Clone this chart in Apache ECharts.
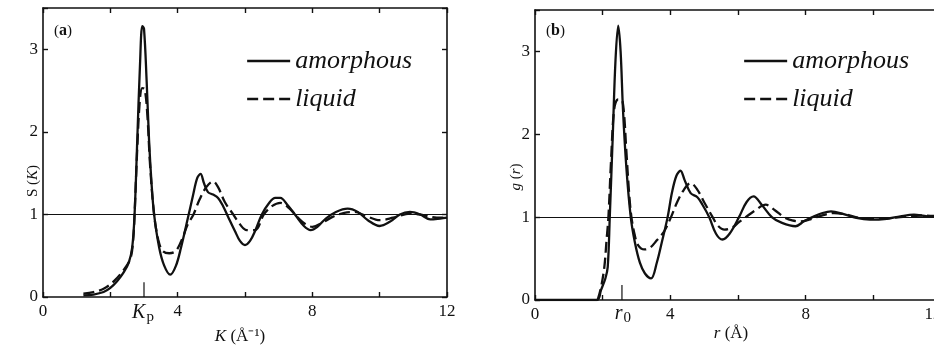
<!DOCTYPE html>
<html><head><meta charset="utf-8">
<script src="https://cdn.jsdelivr.net/npm/echarts@6/dist/echarts.min.js"></script>
<style>html,body{margin:0;padding:0;background:#fff}#c{width:934px;height:346px}</style>
</head><body><div id="c"></div>
<script>
// ---- data ----
const seriesNames = ['amorphous', 'liquid'];
const xTickLabelsA = ['0', '4', '8', '12'];
const yTickLabels = ['0', '1', '2', '3'];
const Kp = 3.0;
const r0 = 2.57;
// (a) S(K)
const S_amorphous = [[1.2,0.02],[1.5,0.03],[1.8,0.06],[2.0,0.11],[2.2,0.19],[2.4,0.3],[2.55,0.42],[2.65,0.6],[2.72,1.0],[2.8,1.9],[2.88,2.8],[2.95,3.28],[3.0,3.25],[3.08,2.6],[3.15,1.9],[3.22,1.4],[3.3,1.0],[3.45,0.6],[3.6,0.38],[3.78,0.27],[3.95,0.38],[4.1,0.6],[4.3,0.95],[4.45,1.22],[4.58,1.44],[4.68,1.49],[4.78,1.38],[4.9,1.27],[5.05,1.24],[5.2,1.2],[5.35,1.1],[5.5,0.97],[5.7,0.8],[5.85,0.68],[6.0,0.63],[6.15,0.68],[6.3,0.8],[6.5,1.0],[6.7,1.13],[6.9,1.2],[7.05,1.2],[7.25,1.12],[7.5,0.99],[7.75,0.86],[7.95,0.81],[8.15,0.85],[8.4,0.95],[8.7,1.03],[9.05,1.07],[9.35,1.03],[9.65,0.93],[10.0,0.86],[10.3,0.91],[10.6,1.0],[10.9,1.03],[11.2,1.0],[11.5,0.94],[11.8,0.95],[12.0,0.96]];
const S_liquid = [[1.2,0.04],[1.5,0.06],[1.8,0.1],[2.1,0.19],[2.4,0.33],[2.6,0.47],[2.68,0.7],[2.72,1.0],[2.8,1.8],[2.88,2.4],[2.95,2.53],[3.02,2.52],[3.1,2.2],[3.18,1.6],[3.3,1.0],[3.42,0.7],[3.55,0.56],[3.75,0.53],[3.95,0.56],[4.15,0.72],[4.3,0.88],[4.47,1.0],[4.65,1.18],[4.85,1.33],[5.05,1.4],[5.2,1.33],[5.4,1.15],[5.65,1.0],[5.85,0.88],[6.05,0.81],[6.3,0.81],[6.56,1.0],[6.8,1.1],[7.05,1.14],[7.3,1.08],[7.6,0.95],[7.8,0.88],[8.0,0.85],[8.3,0.9],[8.6,0.97],[8.95,1.02],[9.25,1.03],[9.6,0.98],[10.0,0.93],[10.4,0.96],[10.9,1.01],[11.3,0.99],[11.7,0.96],[12.0,0.96]];
// (b) g(r)
const g_amorphous = [[0,0],[1.83,0],[1.95,0.12],[2.08,0.26],[2.15,0.4],[2.21,1.0],[2.3,2.0],[2.38,2.9],[2.46,3.31],[2.53,3.0],[2.6,2.3],[2.7,1.6],[2.83,1.0],[2.95,0.7],[3.1,0.45],[3.25,0.32],[3.43,0.26],[3.6,0.45],[3.75,0.7],[3.92,1.0],[4.05,1.3],[4.18,1.5],[4.3,1.56],[4.42,1.45],[4.6,1.29],[4.8,1.24],[4.95,1.15],[5.15,1.0],[5.35,0.8],[5.54,0.73],[5.75,0.8],[6.03,1.0],[6.25,1.18],[6.46,1.25],[6.7,1.15],[7.0,1.0],[7.3,0.93],[7.7,0.89],[7.95,0.95],[8.2,1.0],[8.5,1.05],[8.75,1.07],[9.1,1.04],[9.5,0.99],[9.9,0.97],[10.4,0.98],[10.8,1.01],[11.2,1.03],[11.6,1.01],[12,1.01]];
const g_liquid = [[1.85,0],[1.95,0.15],[2.05,0.4],[2.12,0.75],[2.17,1.0],[2.25,1.7],[2.34,2.3],[2.45,2.42],[2.55,2.42],[2.62,2.3],[2.7,1.8],[2.78,1.3],[2.85,1.0],[2.95,0.78],[3.05,0.66],[3.23,0.61],[3.4,0.63],[3.6,0.72],[3.82,0.83],[4.02,1.0],[4.2,1.18],[4.4,1.33],[4.6,1.41],[4.8,1.33],[5.0,1.18],[5.25,1.0],[5.4,0.9],[5.6,0.85],[5.85,0.88],[6.0,0.93],[6.23,1.0],[6.5,1.08],[6.82,1.15],[7.1,1.08],[7.36,1.0],[7.6,0.96],[7.85,0.95],[8.1,0.97],[8.4,1.01],[8.84,1.05],[9.2,1.03],[9.6,0.99],[10.2,0.98],[10.8,1.0],[11.4,1.02],[12,1.01]];

// ---- chart ----
const FONT = 'Liberation Serif';
const chart = echarts.init(document.getElementById('c'), null, {renderer: 'canvas'});
const lineCol = '#111';

function xAx(grid, pos, labels, shiftLast) {
  return {
    type: 'value', gridIndex: grid, position: pos, min: 0, max: 12, interval: 2,
    axisLine: {show: true, onZero: false, lineStyle: {color: lineCol, width: 1.6}},
    axisTick: {show: true, inside: true, length: 5, lineStyle: {color: lineCol, width: 1.4}},
    axisLabel: {show: labels, margin: 6, color: '#111', fontFamily: FONT, fontSize: 17,
      formatter: v => {
        const s = String(v);
        if (!xTickLabelsA.includes(s)) return '';
        return (shiftLast && v === 12) ? '{e|' + s + '}' : s;
      },
      rich: {e: {fontFamily: FONT, fontSize: 17, color: '#111', padding: [0, 16, 0, 0]}}},
    splitLine: {show: false}
  };
}
function yAx(grid, pos, labels) {
  return {
    type: 'value', gridIndex: grid, position: pos, min: 0, max: 3.5, interval: 1,
    axisLine: {show: true, onZero: false, lineStyle: {color: lineCol, width: 1.6}},
    axisTick: {show: true, inside: true, length: 5, lineStyle: {color: lineCol, width: 1.4}},
    axisLabel: {show: labels, margin: 5, color: '#111', fontFamily: FONT, fontSize: 17,
      formatter: v => yTickLabels.includes(String(v)) ? String(v) : ''},
    splitLine: {show: false}
  };
}
function curve(name, data, xi, yi, dashed) {
  return {
    name, type: 'line', xAxisIndex: xi, yAxisIndex: yi, data, smooth: 0.35,
    symbol: 'none', silent: true, z: 3,
    lineStyle: {color: lineCol, width: 2.3, type: dashed ? [11, 5] : 'solid'},
    itemStyle: {color: lineCol}
  };
}
function oneLine(xi, yi) {
  return {
    type: 'line', xAxisIndex: xi, yAxisIndex: yi, data: [], symbol: 'none', silent: true,
    markLine: {silent: true, symbol: 'none', label: {show: false},
      lineStyle: {color: lineCol, width: 1.2, type: 'solid'}, data: [{yAxis: 1}]}
  };
}
function markTick(x, xi, yi) {
  return {type: 'line', xAxisIndex: xi, yAxisIndex: yi, data: [[x, 0], [x, 0.18]],
    symbol: 'none', silent: true, lineStyle: {color: lineCol, width: 1.2}};
}
function legend(left) {
  return {
    left, top: 43, orient: 'vertical', itemWidth: 43, itemHeight: 14, itemGap: 12,
    selectedMode: false, data: seriesNames,
    itemStyle: {opacity: 0, borderWidth: 0},
    lineStyle: {width: 2.3},
    textStyle: {fontFamily: FONT, fontStyle: 'italic', fontSize: 26, lineHeight: 26, color: '#111'}
  };
}

chart.setOption({
  animation: false,
  grid: [
    {left: 43, top: 8, width: 404, height: 289, outerBoundsMode: 'none', containLabel: false},
    {left: 535, top: 10, width: 406, height: 290, outerBoundsMode: 'none', containLabel: false}
  ],
  xAxis: [xAx(0, 'bottom', true, false), xAx(0, 'top', false, false), xAx(1, 'bottom', true, true), xAx(1, 'top', false, false)],
  yAxis: [yAx(0, 'left', true), yAx(0, 'right', false), yAx(1, 'left', true), yAx(1, 'right', false)],
  legend: [legend(241), legend(738)],
  series: [
    curve(seriesNames[0], S_amorphous, 0, 0, false),
    curve(seriesNames[1], S_liquid, 0, 0, true),
    curve(seriesNames[0], g_amorphous, 2, 2, false),
    curve(seriesNames[1], g_liquid, 2, 2, true),
    oneLine(0, 0), oneLine(2, 2),
    markTick(Kp, 0, 0), markTick(r0, 2, 2)
  ]
});

const pK = chart.convertToPixel({xAxisIndex: 0, yAxisIndex: 0}, [Kp, 0]);
const pr = chart.convertToPixel({xAxisIndex: 2, yAxisIndex: 2}, [r0, 0]);
const txt = {fontFamily: FONT, fill: '#111'};
chart.setOption({
  graphic: [
    {type: 'text', left: 54, top: 23, style: Object.assign({}, txt, {
      text: '({b|a})', fontSize: 15, rich: {b: {fontFamily: FONT, fontWeight: 'bold', fontSize: 16, fill: '#111'}}})},
    {type: 'text', left: 546, top: 23, style: Object.assign({}, txt, {
      text: '({b|b})', fontSize: 15, rich: {b: {fontFamily: FONT, fontWeight: 'bold', fontSize: 16, fill: '#111'}}})},
    {type: 'text', x: pK[0] - 1, y: 313, style: Object.assign({}, txt, {
      text: '{i|K}{s|p}', align: 'center', verticalAlign: 'middle',
      rich: {i: {fontFamily: FONT, fontStyle: 'italic', fontSize: 20, fill: '#111'},
             s: {fontFamily: FONT, fontSize: 15, fill: '#111', padding: [8, 0, 0, 1]}}})},
    {type: 'text', x: pr[0] + 1, y: 314, style: Object.assign({}, txt, {
      text: '{i|r}{s|0}', align: 'center', verticalAlign: 'middle',
      rich: {i: {fontFamily: FONT, fontStyle: 'italic', fontSize: 20, fill: '#111'},
             s: {fontFamily: FONT, fontSize: 15, fill: '#111', padding: [9, 0, 0, 1]}}})},
    {type: 'text', x: 240, y: 337, style: Object.assign({}, txt, {
      text: '{i|K} (Å⁻¹)', fontSize: 17, align: 'center', verticalAlign: 'middle',
      rich: {i: {fontFamily: FONT, fontStyle: 'italic', fontSize: 17, fill: '#111'}}})},
    {type: 'text', x: 731, y: 334, style: Object.assign({}, txt, {
      text: '{i|r} (Å)', fontSize: 17, align: 'center', verticalAlign: 'middle',
      rich: {i: {fontFamily: FONT, fontStyle: 'italic', fontSize: 17, fill: '#111'}}})},
    {type: 'text', x: 33, y: 181, rotation: Math.PI / 2, style: Object.assign({}, txt, {
      text: 'S ({i|K})', fontSize: 15, align: 'center', verticalAlign: 'middle',
      rich: {i: {fontFamily: FONT, fontStyle: 'italic', fontSize: 15, fill: '#111'}}})},
    {type: 'text', x: 516, y: 177, rotation: Math.PI / 2, style: Object.assign({}, txt, {
      text: '{i|g} ({i|r})', fontSize: 15, align: 'center', verticalAlign: 'middle',
      rich: {i: {fontFamily: FONT, fontStyle: 'italic', fontSize: 15, fill: '#111'}}})}
  ]
});
</script></body></html>
